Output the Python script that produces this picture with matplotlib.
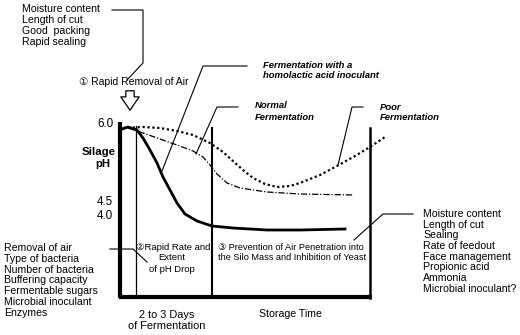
import matplotlib
matplotlib.use("agg")
import matplotlib.pyplot as plt
from matplotlib.patches import FancyArrowPatch

# schematic canvas: x = time axis (left to right), y = pH position (top = high pH)
good_x = [122, 128, 137, 143, 150, 157, 163, 170, 177, 185, 197, 212, 233, 267, 300, 345]
good_y = [129, 127, 130, 138, 150, 163, 177, 190, 203, 214, 221, 226, 228, 230, 230, 229]

poor_x = [123, 143, 160, 177, 193, 210, 223, 233, 243, 253, 265, 277, 290, 300, 320, 337, 355, 370, 385]
poor_y = [128, 127, 128, 131, 135, 143, 152, 161, 170, 178, 184, 187, 186, 183, 175, 166, 156, 147, 137]

normal_x = [128, 143, 160, 177, 193, 203, 210, 217, 227, 240, 267, 300, 353]
normal_y = [128, 133, 139, 145, 151, 157, 165, 174, 183, 188, 192, 194, 195]

ph_ticks = ["6.0", "4.5", "4.0"]
ph_tick_y = [124, 202, 216]

pre_factors = ["Moisture content", "Length of cut", "Good  packing", "Rapid sealing"]
drop_factors = ["Removal of air", "Type of bacteria", "Number of bacteria",
                "Buffering capacity", "Fermentable sugars", "Microbial inoculant", "Enzymes"]
storage_factors = ["Moisture content", "Length of cut", "Sealing", "Rate of feedout",
                   "Face management", "Propionic acid", "Ammonia", "Microbial inoculant?"]

plt.rcParams['font.family'] = ['Liberation Sans', 'DejaVu Sans']

fig = plt.figure(figsize=(5.2, 3.35), dpi=100)
ax = fig.add_axes([0, 0, 1, 1])
ax.set_xlim(0, 520)
ax.set_ylim(335, 0)
ax.axis("off")

# frame of the diagram
ax.plot([120, 120], [122, 298], color="black", lw=3, solid_capstyle="butt")
ax.plot([119, 372], [297, 297], color="black", lw=3, solid_capstyle="butt")
ax.plot([370, 370], [128, 298], color="black", lw=1.8)
ax.plot([212, 212], [128, 298], color="black", lw=1.5)
ax.plot([136, 136], [126, 298], color="black", lw=0.9)

# pH curves
ax.plot(good_x, good_y, color="black", lw=2)
ax.plot(poor_x, poor_y, color="black", lw=1.6, linestyle=(0, (1, 1.2)))
ax.plot(normal_x, normal_y, color="black", lw=0.9, linestyle=(0, (5, 1.5, 1, 1.5)))

# y axis labels
for lab, yy in zip(ph_ticks, ph_tick_y):
    ax.text(113, yy, lab, ha="right", va="center", fontsize=8.4)
ax.text(99, 152, "Silage", ha="center", va="center", fontsize=8.2, fontweight="bold")
ax.text(103, 164, "pH", ha="center", va="center", fontsize=8.2, fontweight="bold")

# factor lists
fs_list = 7.6
for i, s in enumerate(pre_factors):
    ax.text(22, 9 + i * 11, s, ha="left", va="center", fontsize=fs_list)
for i, s in enumerate(drop_factors):
    ax.text(4, 248 + i * 10.8, s, ha="left", va="center", fontsize=fs_list)
for i, s in enumerate(storage_factors):
    ax.text(423, 214 + i * 10.7, s, ha="left", va="center", fontsize=fs_list)

# curve labels
lab_kw = dict(ha="left", va="center", fontsize=6.8, fontstyle="italic", fontweight="bold")
ax.text(263, 65, "Fermentation with a", **lab_kw)
ax.text(263, 76, "homolactic acid inoculant", **lab_kw)
ax.text(255, 106, "Normal", **lab_kw)
ax.text(255, 117, "Fermentation", **lab_kw)
ax.text(380, 107, "Poor", **lab_kw)
ax.text(380, 118, "Fermentation", **lab_kw)

# step labels
step_fam = ['Liberation Sans', 'DejaVu Sans']
ax.text(79, 82, "\u2460 Rapid Removal of Air", ha="left", va="center", fontsize=7.5,
        family=step_fam)
ax.text(173, 248, "\u2461Rapid Rate and", ha="center", va="center", fontsize=6.8,
        family=step_fam)
ax.text(172, 258, "Extent", ha="center", va="center", fontsize=6.8)
ax.text(172, 269, "of pH Drop", ha="center", va="center", fontsize=6.8)
ax.text(218, 247, "\u2462 Prevention of Air Penetration into", ha="left", va="center",
        fontsize=6.6, family=step_fam)
ax.text(218, 258, "the Silo Mass and Inhibition of Yeast", ha="left", va="center", fontsize=6.6)

# bottom labels
ax.text(167, 315, "2 to 3 Days", ha="center", va="center", fontsize=7.9)
ax.text(167, 326, "of Fermentation", ha="center", va="center", fontsize=7.9)
ax.text(290, 314, "Storage Time", ha="center", va="center", fontsize=7.6)

# leader lines
leaders = [
    ([112, 143, 143, 127], [10, 10, 63, 80]),
    ([247, 203, 162], [66, 66, 171]),
    ([238, 217, 196], [107, 107, 154]),
    ([363, 352, 338], [107, 107, 165]),
    ([413, 383, 354], [214, 214, 240]),
    ([110, 133, 147], [249, 249, 262]),
]
for lx, ly in leaders:
    ax.plot(lx, ly, color="black", lw=0.8)

# hollow arrow for air removal
ax.add_patch(FancyArrowPatch((130, 88), (130, 113),
                             arrowstyle="simple,head_width=1.1,head_length=0.8,tail_width=0.5",
                             mutation_scale=12, facecolor="white", edgecolor="black", lw=0.9))

fig.savefig("out.png", dpi=100)
